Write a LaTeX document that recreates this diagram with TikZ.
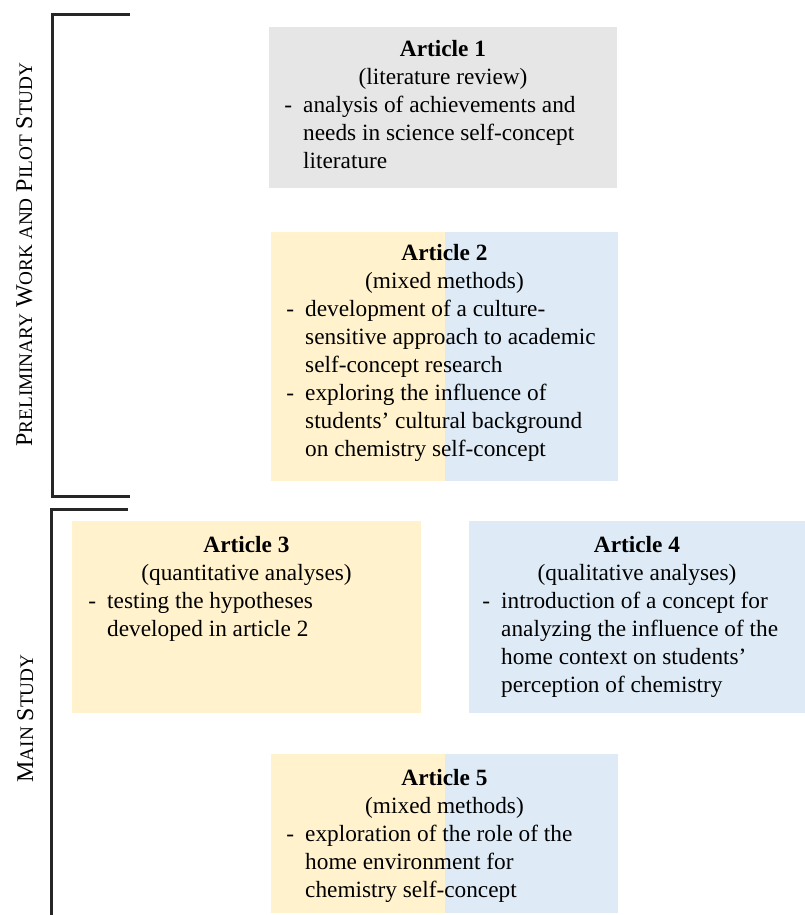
\documentclass[tikz,border=0pt]{standalone}
\usepackage{fontspec}
\setmainfont{Liberation Serif}
\definecolor{artgray}{HTML}{E6E6E6}
\definecolor{artyellow}{HTML}{FFF2CC}
\definecolor{artblue}{HTML}{DEEBF7}
\newcommand{\bodyfont}{\fontsize{23.3}{28}\selectfont}
\newcommand{\labelfont}{\fontsize{24}{28}\selectfont}
\newcommand{\dashitem}{\llap{-\hspace{11pt}}}
\newcommand{\fakesc}[2]{#1{\fontsize{19.2}{28}\selectfont #2}}
\tikzset{
  artbox/.style={rectangle, draw=none, inner sep=0pt},
  splitbox/.style={artbox, fill=artblue,
    path picture={\fill[artyellow] (path picture bounding box.north west)
      rectangle (path picture bounding box.south);}},
  arttitle/.style={anchor=base, inner sep=0pt, font=\bodyfont\bfseries},
  artsub/.style={anchor=base, inner sep=0pt, font=\bodyfont},
  artlist/.style={anchor=base west, inner sep=0pt, font=\bodyfont},
  sidelabel/.style={anchor=base, rotate=90, inner sep=0pt, font=\labelfont},
  bracketline/.style={line width=3pt, black!85}
}
\begin{document}
\begin{tikzpicture}[x=1pt, y=-1pt]
\useasboundingbox (0,0) rectangle (805,915);

% section brackets
\coordinate (b1top) at (130,15);
\coordinate (b1bot) at (130,496);
\draw[bracketline] (b1top) -- (52,15) -- (52,496) -- (b1bot);
\coordinate (b2top) at (128,509);
\coordinate (b2end) at (51,920);
\draw[bracketline] (b2top) -- (51,509) -- (b2end);

% section labels
\node[sidelabel] (labpre) at (32,254.5)
  {\fakesc{P}{RELIMINARY} \fakesc{W}{ORK AND} \fakesc{P}{ILOT} \fakesc{S}{TUDY}};
\node[sidelabel] (labmain) at (33,718.5)
  {\fakesc{M}{AIN} \fakesc{S}{TUDY}};

% Article 1
\node[artbox, fill=artgray, minimum width=348pt, minimum height=161pt] (a1) at (443,107.5) {};
\node[arttitle] (a1t) at (443,57) {Article 1};
\node[artsub] (a1s) at (443,85) {(literature review)};
\node[artlist] (a1l) at (303,113) {\begin{tabular}[t]{@{}l@{}}
  \dashitem analysis of achievements and\\
  needs in science self-concept\\
  literature\end{tabular}};

% Article 2
\node[splitbox, minimum width=347pt, minimum height=249pt] (a2) at (444.5,356.5) {};
\node[arttitle] (a2t) at (444.5,260) {Article 2};
\node[artsub] (a2s) at (444.5,288) {(mixed methods)};
\node[artlist] (a2l) at (305,316) {\begin{tabular}[t]{@{}l@{}}
  \dashitem development of a culture-\\
  sensitive approach to academic\\
  self-concept research\\
  \dashitem exploring the influence of\\
  students' cultural background\\
  on chemistry self-concept\end{tabular}};

% Article 3
\node[artbox, fill=artyellow, minimum width=349pt, minimum height=192pt] (a3) at (246.5,617) {};
\node[arttitle] (a3t) at (246.5,552) {Article 3};
\node[artsub] (a3s) at (246.5,580) {(quantitative analyses)};
\node[artlist] (a3l) at (107,608) {\begin{tabular}[t]{@{}l@{}}
  \dashitem testing the hypotheses\\
  developed in article 2\end{tabular}};

% Article 4
\node[artbox, fill=artblue, minimum width=336pt, minimum height=192pt] (a4) at (637,617) {};
\node[arttitle] (a4t) at (637,552) {Article 4};
\node[artsub] (a4s) at (637,580) {(qualitative analyses)};
\node[artlist] (a4l) at (501,608) {\begin{tabular}[t]{@{}l@{}}
  \dashitem introduction of a concept for\\
  analyzing the influence of the\\
  home context on students'\\
  perception of chemistry\end{tabular}};

% Article 5
\node[splitbox, minimum width=347pt, minimum height=159pt] (a5) at (444.5,833.5) {};
\node[arttitle] (a5t) at (444.5,785) {Article 5};
\node[artsub] (a5s) at (444.5,813) {(mixed methods)};
\node[artlist] (a5l) at (305,841) {\begin{tabular}[t]{@{}l@{}}
  \dashitem exploration of the role of the\\
  home environment for\\
  chemistry self-concept\end{tabular}};
\end{tikzpicture}
\end{document}
